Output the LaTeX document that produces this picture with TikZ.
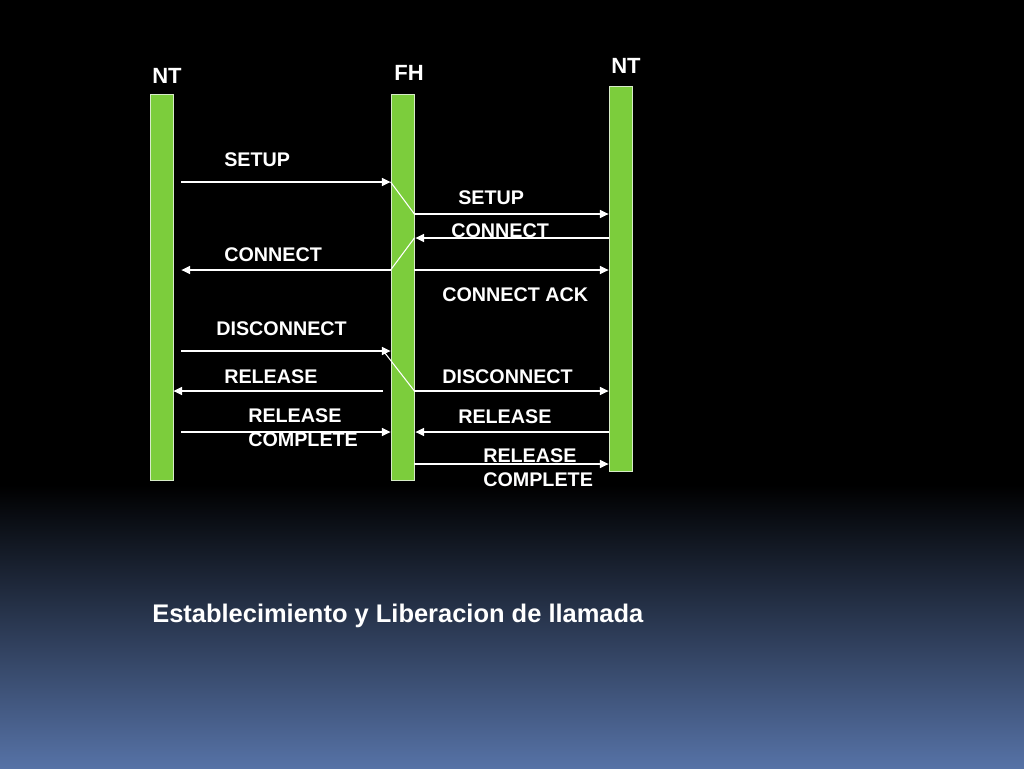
\documentclass[tikz,border=0pt]{standalone}
\usepackage{fontspec}
\setmainfont{Liberation Sans}
\usetikzlibrary{arrows.meta,calc}
\definecolor{bargreen}{RGB}{124,205,60}
\definecolor{baredge}{RGB}{215,235,200}
\definecolor{bgblue}{RGB}{86,114,166}
\begin{document}
\begin{tikzpicture}[x=0.75pt,y=-0.75pt,
  bar/.style={rectangle,fill=bargreen,draw=baredge,line width=0.6pt,minimum width=17.25pt,inner sep=0pt},
  head/.style={text=white,font=\bfseries\fontsize{16.5}{19}\selectfont,inner sep=0pt},
  lbl/.style={text=white,font=\bfseries\fontsize{14.8}{18}\selectfont,anchor=west,inner sep=0pt,align=left},
  msg/.style={draw=white,line width=1pt,-{Triangle[length=6.5pt,width=6pt]}},
  link/.style={draw=white,line width=0.8pt}]
\useasboundingbox (0,0) rectangle (1024,768);
\fill[black] (0,0) rectangle (1024,768);
\shade[top color=black,bottom color=bgblue] (0,485) rectangle (1024,768);
% lifelines
\node[bar,minimum height=289.5pt,anchor=north] (b1) at (161.5,94) {};
\node[bar,minimum height=289.5pt,anchor=north] (b2) at (402.5,94) {};
\node[bar,minimum height=288.75pt,anchor=north] (b3) at (620.5,86) {};
\node[head] (h1) at (167,76) {NT};
\node[head] (h2) at (409,73) {FH};
\node[head] (h3) at (626,66) {NT};
% labels
\node[lbl] (l1) at (224,160) {SETUP};
\node[lbl] (l2) at (458,198) {SETUP};
\node[lbl] (l3) at (451,231) {CONNECT};
\node[lbl] (l4) at (224,255) {CONNECT};
\node[lbl] (l5) at (442,295) {CONNECT ACK};
\node[lbl] (l6) at (216,329) {DISCONNECT};
\node[lbl] (l7) at (224,377) {RELEASE};
\node[lbl] (l8) at (442,377) {DISCONNECT};
\node[lbl] (l9) at (248,428) {RELEASE\\COMPLETE};
\node[lbl] (l10) at (458,417) {RELEASE};
\node[lbl] (l11) at (483,468) {RELEASE\\COMPLETE};
% messages
\draw[msg] ($(b1.east|-0,182)+(8,0)$) -- (b2.west|-0,182);
\draw[link] (b2.west|-0,182) -- (b2.east|-0,214);
\draw[msg] (b2.east|-0,214) -- (b3.west|-0,214);
\draw[msg] (b3.west|-0,238) -- ($(b2.east|-0,238)+(1,0)$);
\draw[link] (b2.east|-0,238) -- (b2.west|-0,270);
\draw[msg] (b2.west|-0,270) -- ($(b1.east|-0,270)+(8,0)$);
\draw[msg] (b2.east|-0,270) -- (b3.west|-0,270);
\draw[msg] ($(b1.east|-0,351)+(8,0)$) -- (b2.west|-0,351);
\draw[link] ($(b2.west|-0,350)+(-8,0)$) -- (b2.east|-0,391);
\draw[msg] ($(b2.west|-0,391)+(-8,0)$) -- (b1.east|-0,391);
\draw[msg] (b2.east|-0,391) -- (b3.west|-0,391);
\draw[msg] ($(b1.east|-0,432)+(8,0)$) -- (b2.west|-0,432);
\draw[msg] (b3.west|-0,432) -- ($(b2.east|-0,432)+(1,0)$);
\draw[msg] (b2.east|-0,464) -- (b3.west|-0,464);
% title
\node[text=white,font=\bfseries\fontsize{19.1}{23}\selectfont,anchor=west,inner sep=0pt] (title) at (152,616) {Establecimiento y Liberacion de llamada};
\end{tikzpicture}
\end{document}
